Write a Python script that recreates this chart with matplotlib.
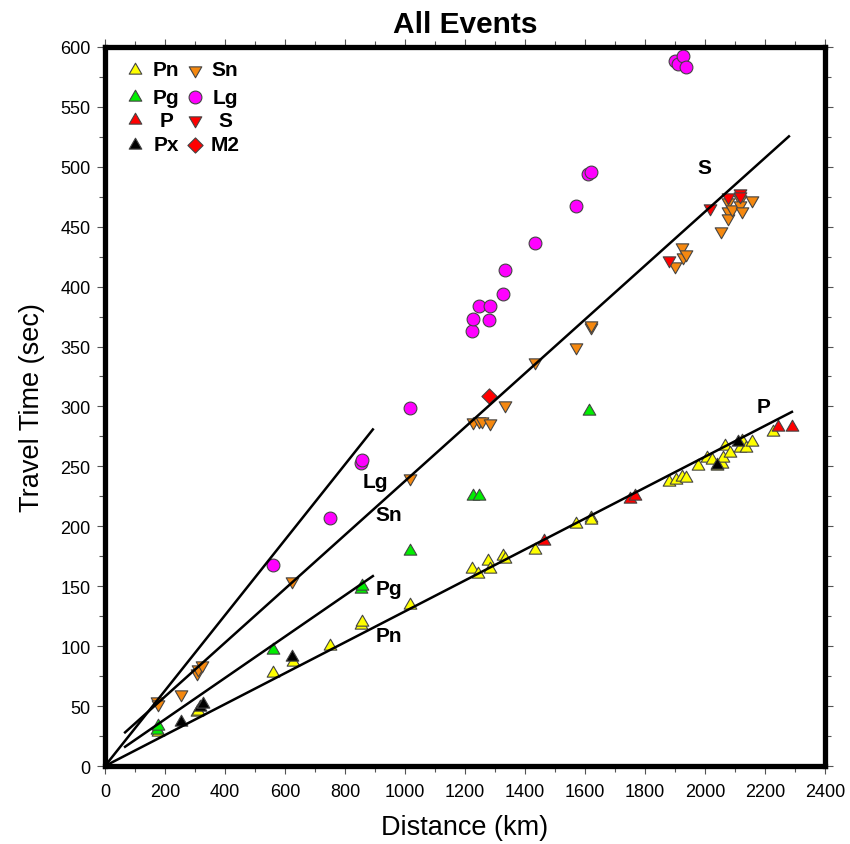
import numpy as np
import matplotlib.pyplot as plt
from matplotlib.ticker import MultipleLocator

plt.rcParams['font.family'] = ['Liberation Sans', 'DejaVu Sans']

# ==============================
# DATA (distance km, travel time s)
# ==============================

pn_x = [177, 307, 310, 560, 627, 750, 853, 857, 1017, 1223, 1243, 1277, 1283, 1327, 1333,
        1433, 1570, 1620, 1620, 1880, 1903, 1923, 1937, 1977, 2007, 2022, 2040, 2057, 2060,
        2067, 2083, 2117, 2123, 2137, 2157, 2227]
pn_t = [28, 45, 46, 78, 87, 100, 118, 120, 134, 164, 160, 171, 164, 175, 173,
        180, 202, 207, 205, 237, 239, 241, 240, 250, 257, 255, 250, 252, 257,
        267, 261, 265, 271, 265, 270, 279]

pg_x = [173, 177, 560, 853, 857, 1017, 1227, 1247, 1613]
pg_t = [30, 33, 97, 148, 150, 179, 225, 225, 296]

p_x = [1463, 1750, 1767, 2243, 2290]
p_t = [188, 223, 225, 283, 283]

px_x = [253, 317, 327, 623, 2040, 2110]
px_t = [37, 49, 52, 91, 251, 270]

sn_x = [173, 177, 253, 307, 310, 323, 623, 1017, 1227, 1247, 1257, 1283, 1333, 1433, 1570,
        1620, 1620, 1900, 1923, 1927, 1937, 2053, 2077, 2077, 2077, 2090, 2117, 2117, 2123, 2157]
sn_t = [54, 52, 60, 78, 81, 84, 154, 240, 287, 288, 288, 286, 301, 337, 350,
        366, 368, 417, 433, 425, 427, 446, 471, 463, 457, 465, 473, 468, 463, 472]

lg_x = [560, 750, 853, 857, 1017, 1223, 1227, 1280, 1247, 1283, 1327, 1333, 1433, 1570,
        1610, 1620, 1900, 1910, 1927, 1937]
lg_t = [168, 207, 253, 255, 299, 363, 373, 372, 384, 384, 394, 414, 436, 467,
        494, 496, 588, 586, 592, 583]

s_x = [1880, 2017, 2077, 2117, 2117]
s_t = [422, 466, 475, 478, 476]

m2_x = [1280]
m2_t = [309]

# reference lines: name, x start, x end, velocity (km/s), intercept (s)
line_names = ["Pn", "Pg", "Sn", "Lg"]
line_x0 = [0, 67, 67, 0]
line_x1 = [2290, 893, 2280, 893]
line_vel = [7.75, 5.8, 4.45, 3.18]
line_t0 = [0, 4.5, 13, 0]

# line labels
lab_text = ["Pn", "Pg", "Sn", "Lg", "S", "P"]
lab_x = [947, 947, 947, 900, 1997, 2197]
lab_t = [109, 148, 210, 237, 499, 300]

# ==============================
# STYLES
# ==============================

UP = (3, 0, 0)
DOWN = (3, 0, 180)

series = [
    ("Pn", pn_x, pn_t, UP, "#ffff00", 110),
    ("Pg", pg_x, pg_t, UP, "#00ee00", 110),
    ("P", p_x, p_t, UP, "#ff0000", 110),
    ("Px", px_x, px_t, UP, "#000000", 110),
    ("Sn", sn_x, sn_t, DOWN, "#f5880f", 110),
    ("Lg", lg_x, lg_t, "o", "#ff00ff", 85),
    ("S", s_x, s_t, DOWN, "#ff0000", 110),
    ("M2", m2_x, m2_t, "D", "#ff0000", 60),
]

# ==============================
# PLOT
# ==============================

fig = plt.figure(figsize=(8.5, 8.45), dpi=100)
ax = fig.add_axes([0.1235, 0.0923, 0.847, 0.851])

for name, xs, ts, mk, col, size in series:
    ax.scatter(xs, ts, marker=mk, s=size, c=col, edgecolors="#444444",
               linewidths=0.8, zorder=2)

for name, x0, x1, v, t0 in zip(line_names, line_x0, line_x1, line_vel, line_t0):
    xx = np.array([x0, x1])
    ax.plot(xx, t0 + xx / v, color="black", lw=1.8, zorder=3)

for txt, lx, lt in zip(lab_text, lab_x, lab_t):
    ax.text(lx, lt, txt, fontsize=15, fontweight="bold", ha="center", va="center", zorder=4)

# legend, two columns, labels centered
leg_mx = [0.042, 0.125]
leg_tx = [0.085, 0.167]
leg_y = [0.968, 0.930, 0.898, 0.864]
for i, (name, xs, ts, mk, col, size) in enumerate(series):
    c, r = divmod(i, 4)
    ax.scatter([leg_mx[c]], [leg_y[r]], marker=mk, s=size, c=col,
               edgecolors="#444444", linewidths=0.8, transform=ax.transAxes, zorder=5,
               clip_on=False)
    ax.text(leg_tx[c], leg_y[r], name, transform=ax.transAxes, fontsize=15,
            fontweight="bold", ha="center", va="center")

ax.set_xlim(0, 2400)
ax.set_ylim(0, 600)
ax.xaxis.set_major_locator(MultipleLocator(200))
ax.xaxis.set_minor_locator(MultipleLocator(100))
ax.yaxis.set_major_locator(MultipleLocator(50))
ax.yaxis.set_minor_locator(MultipleLocator(25))

for sp in ax.spines.values():
    sp.set_linewidth(3.8)

ax.tick_params(which="both", direction="out", top=True, right=True,
               color="#555555", width=0.8, labelsize=13)
ax.tick_params(which="major", length=5.5)
ax.tick_params(which="minor", length=4)
ax.tick_params(axis="x", pad=7)
ax.tick_params(axis="y", pad=5)

ax.set_xlabel("Distance (km)", fontsize=19.5, labelpad=10)
ax.set_ylabel("Travel Time (sec)", fontsize=19.5, labelpad=11)
ax.set_title("All Events", fontsize=21.5, fontweight="bold", pad=11)

plt.savefig("out.png", dpi=100)
